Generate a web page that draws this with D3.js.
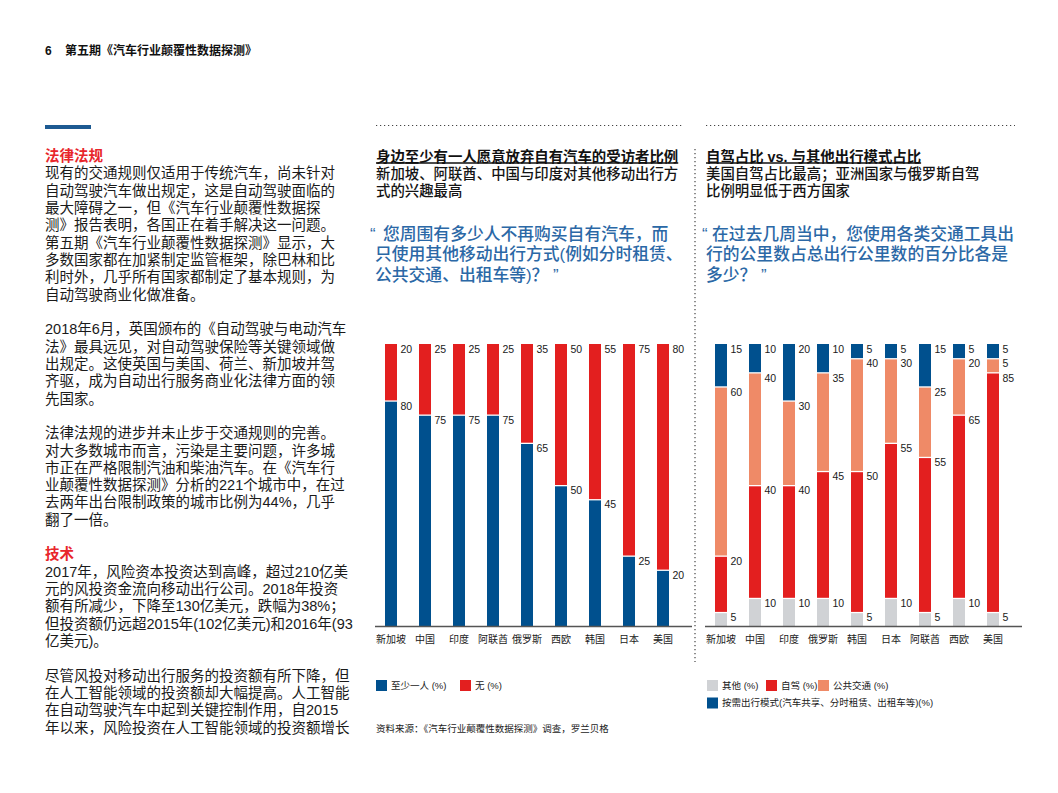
<!DOCTYPE html>
<html><head><meta charset="utf-8">
<script src="https://cdn.jsdelivr.net/npm/d3@7"></script>
<style>
html,body{margin:0;padding:0;background:#fff;}
svg{display:block;font-family:"Liberation Sans",Arial,"Noto Sans CJK SC",sans-serif;}
</style></head>
<body>
<svg id="c" width="1058" height="793"></svg>
<script>
// ---------- DATA ----------
const leftCats = ["新加坡","中国","印度","阿联酋","俄罗斯","西欧","韩国","日本","美国"];
const atLeastOne = [80,75,75,75,65,50,45,25,20];
const noneArr   = [20,25,25,25,35,50,55,75,80];

const rightCats = ["新加坡","中国","印度","俄罗斯","韩国","日本","阿联酋","西欧","美国"];
const otherArr   = [5,10,10,10,5,10,5,10,5];
const selfDrive  = [20,40,40,45,50,55,55,65,85];
const publicTr   = [60,40,30,35,40,30,25,20,5];
const onDemand   = [15,10,20,10,5,5,15,5,5];

const legendLeft  = ["至少一人 (%)","无 (%)"];
const legendRight = ["其他 (%)","自驾 (%)","公共交通 (%)","按需出行模式(汽车共享、分时租赁、出租车等)(%)"];

const bodyLines = [
 ["法律法规","h"],
 ["现有的交通规则仅适用于传统汽车，尚未针对"],
 ["自动驾驶汽车做出规定，这是自动驾驶面临的"],
 ["最大障碍之一，但《汽车行业颠覆性数据探"],
 ["测》报告表明，各国正在着手解决这一问题。"],
 ["第五期《汽车行业颠覆性数据探测》显示，大"],
 ["多数国家都在加紧制定监管框架，除巴林和比"],
 ["利时外，几乎所有国家都制定了基本规则，为"],
 ["自动驾驶商业化做准备。"],
 [""],
 ["2018年6月，英国颁布的《自动驾驶与电动汽车"],
 ["法》最具远见，对自动驾驶保险等关键领域做"],
 ["出规定。这使英国与美国、荷兰、新加坡并驾"],
 ["齐驱，成为自动出行服务商业化法律方面的领"],
 ["先国家。"],
 [""],
 ["法律法规的进步并未止步于交通规则的完善。"],
 ["对大多数城市而言，污染是主要问题，许多城"],
 ["市正在严格限制汽油和柴油汽车。在《汽车行"],
 ["业颠覆性数据探测》分析的221个城市中，在过"],
 ["去两年出台限制政策的城市比例为44%，几乎"],
 ["翻了一倍。"],
 [""],
 ["技术","h"],
 ["2017年，风险资本投资达到高峰，超过210亿美"],
 ["元的风投资金流向移动出行公司。2018年投资"],
 ["额有所减少，下降至130亿美元，跌幅为38%；"],
 ["但投资额仍远超2015年(102亿美元)和2016年(93"],
 ["亿美元)。"],
 [""],
 ["尽管风投对移动出行服务的投资额有所下降，但"],
 ["在人工智能领域的投资额却大幅提高。人工智能"],
 ["在自动驾驶汽车中起到关键控制作用，自2015"],
 ["年以来，风险投资在人工智能领域的投资额增长"]
];

const C = {blue:"#00508e", red:"#e31f1f", salmon:"#ef8a67", gray:"#d0d2d5",
           quote:"#2b68a6", text:"#1a1a1a", head:"#e8262b"};

const svg = d3.select("#c");

// ---------- HEADER ----------
svg.append("text").attr("x",45).attr("y",54.5).attr("font-size",12).attr("font-weight","bold")
  .attr("fill","#111").text("6");
svg.append("text").attr("x",65).attr("y",54.5).attr("font-size",12).attr("font-weight","bold")
  .attr("fill","#111").text("第五期《汽车行业颠覆性数据探测》");
svg.append("rect").attr("x",45).attr("y",125).attr("width",46).attr("height",4).attr("fill","#1d5a92");

// ---------- LEFT BODY TEXT ----------
bodyLines.forEach((l,i)=>{
  if(!l[0]) return;
  const yc = 155.7 + 17.32*i;
  svg.append("text").attr("x",45).attr("y",yc).attr("dy","0.37em")
    .attr("font-size",14.5)
    .attr("font-weight", l[1]==="h" ? "bold":"normal")
    .attr("fill", l[1]==="h" ? C.head : C.text)
    .text(l[0]);
});

// ---------- DOTTED RULES ----------
function dotted(x1,y1,x2,y2){
  svg.append("line").attr("x1",x1).attr("y1",y1).attr("x2",x2).attr("y2",y2)
    .attr("stroke","#444").attr("stroke-width",1.2).attr("stroke-dasharray","1.2,2.8");
}
dotted(376,125.5,684,125.5);
dotted(706,125.5,1015,125.5);
dotted(695,149,695,662);

// ---------- PANEL TITLES ----------
function panelHead(x, title, subs, quoteLines, quoteX, openX){
  const t = svg.append("text").attr("x",x).attr("y",156.7).attr("dy","0.37em")
    .attr("font-size",14.4).attr("font-weight","bold").attr("fill","#111").text(title);
  const w = t.node().getComputedTextLength();
  svg.append("line").attr("x1",x).attr("x2",x+w).attr("y1",163).attr("y2",163)
    .attr("stroke","#111").attr("stroke-width",1.5);
  subs.forEach((s,i)=>{
    svg.append("text").attr("x",x).attr("y",173.5+16.8*i).attr("dy","0.37em")
      .attr("font-size",14.4).attr("font-weight",500).attr("fill","#141414").text(s);
  });
  // opening quote mark
  svg.append("text").attr("x",openX).attr("y",233.5).attr("dy","0.37em")
    .attr("font-size",16.8).attr("font-weight",500).attr("fill",C.quote).text("“");
  quoteLines.forEach((q,i)=>{
    svg.append("text").attr("x",quoteX[i]).attr("y",233.5+20.4*i).attr("dy","0.37em")
      .attr("font-size",16.8).attr("font-weight",500).attr("fill",C.quote).text(q);
  });
}
panelHead(376,"身边至少有一人愿意放弃自有汽车的受访者比例",
  ["新加坡、阿联酋、中国与印度对其他移动出行方","式的兴趣最高"],
  ["您周围有多少人不再购买自有汽车，而","只使用其他移动出行方式(例如分时租赁、","公共交通、出租车等)？ ”"],
  [383,375,375], 370);
panelHead(706,"自驾占比 vs. 与其他出行模式占比",
  ["美国自驾占比最高；亚洲国家与俄罗斯自驾","比例明显低于西方国家"],
  ["在过去几周当中，您使用各类交通工具出","行的公里数占总出行公里数的百分比各是","多少？ ”"],
  [712,706,706], 702);

// ---------- CHARTS ----------
const y = d3.scaleLinear().domain([0,100]).range([626,344]);

function drawChart(cats, series, colors, x0){
  const step = 34, p = 22/34;
  const x = d3.scaleBand().domain(cats).range([x0-11, x0-11+step*cats.length])
    .paddingInner(p).paddingOuter(p/2);
  const rows = cats.map((c,i)=>{ const o={cat:c}; series.forEach((s,k)=>o["s"+k]=s[i]); return o; });
  const keys = series.map((s,k)=>"s"+k);
  const stacked = d3.stack().keys(keys)(rows);
  const g = svg.append("g");
  stacked.forEach((layer,k)=>{
    const isTop = k===stacked.length-1;
    g.selectAll(null).data(layer).join("rect")
      .attr("x",d=>x(d.data.cat))
      .attr("width",x.bandwidth())
      .attr("y",d=>y(d[1]) + (isTop?0:1.3))
      .attr("height",d=>Math.max(0, y(d[0])-y(d[1]) - (isTop?0:1.3)))
      .attr("fill",colors[k]);
    g.selectAll(null).data(layer).join("text")
      .attr("x",d=>x(d.data.cat)+x.bandwidth()+3.5)
      .attr("y",d=>y(d[1])+9.3)
      .attr("font-size",10.5).attr("fill","#1a1a1a")
      .text(d=>d[1]-d[0]);
  });
  const ax = g.append("g").attr("transform","translate(0,626.5)")
    .call(d3.axisBottom(x).tickSize(0).tickPadding(9));
  ax.select(".domain").remove();
  ax.selectAll("text").attr("font-size",10).attr("fill","#1a1a1a")
    .attr("font-family","'Liberation Sans',Arial,'Noto Sans CJK SC',sans-serif");
  g.append("line").attr("x1",x0-10).attr("x2",x0+307).attr("y1",626.5).attr("y2",626.5)
    .attr("stroke","#555").attr("stroke-width",1.3);
}
drawChart(leftCats,[atLeastOne,noneArr],[C.blue,C.red],385);
drawChart(rightCats,[otherArr,selfDrive,publicTr,onDemand],[C.gray,C.red,C.salmon,C.blue],715);

// ---------- LEGENDS ----------
function legendItem(x,yc,color,label){
  svg.append("rect").attr("x",x).attr("y",yc-5.5).attr("width",11).attr("height",11).attr("fill",color);
  svg.append("text").attr("x",x+15).attr("y",yc).attr("dy","0.36em").attr("font-size",9.5)
    .attr("fill","#1a1a1a").text(label);
}
legendItem(376,685.5,C.blue,legendLeft[0]);
legendItem(460,685.5,C.red,legendLeft[1]);
legendItem(707,685.5,C.gray,legendRight[0]);
legendItem(766,685.5,C.red,legendRight[1]);
legendItem(818,685.5,C.salmon,legendRight[2]);
legendItem(707,703,C.blue,legendRight[3]);

svg.append("text").attr("x",376).attr("y",728.5).attr("dy","0.36em").attr("font-size",9.5)
  .attr("fill","#1a1a1a").text("资料来源：《汽车行业颠覆性数据探测》调查，罗兰贝格");
</script>
</body></html>
